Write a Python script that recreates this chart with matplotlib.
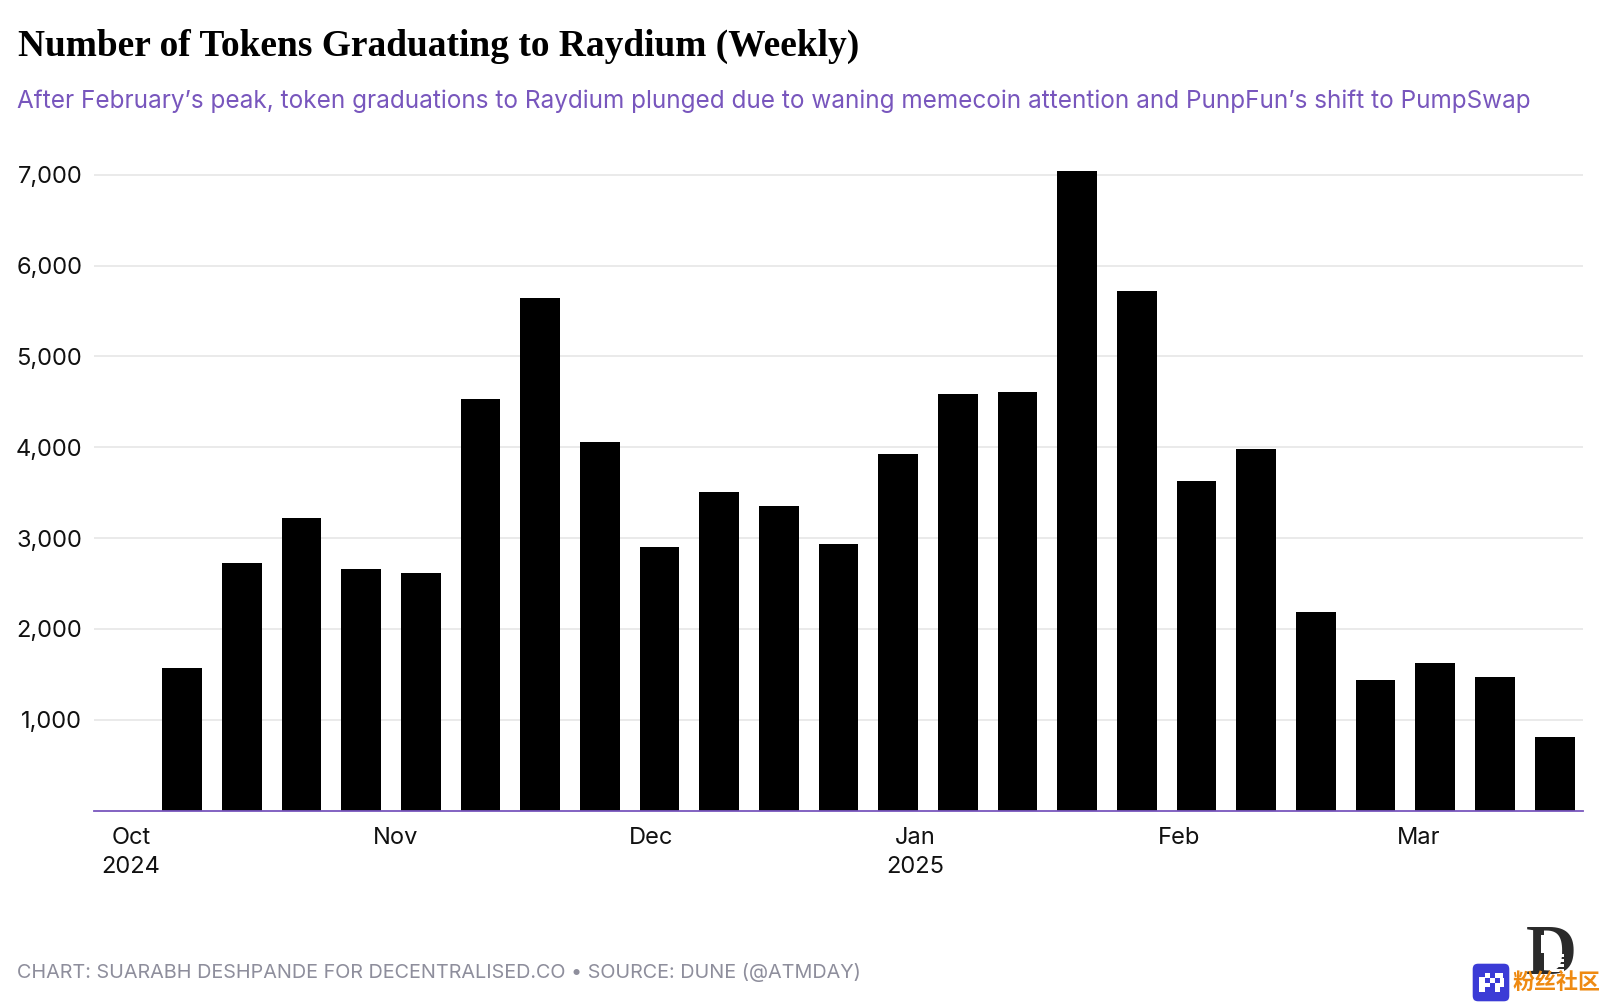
"""Weekly count of tokens graduating to Raydium, Oct 2024 - Mar 2025."""
import matplotlib

matplotlib.use("Agg")

import matplotlib.dates as mdates  # noqa: E402
import matplotlib.pyplot as plt  # noqa: E402
import numpy as np  # noqa: E402
from matplotlib.patches import FancyBboxPatch, Polygon, Rectangle  # noqa: E402

weeks = [
    "2024-10-07", "2024-10-14", "2024-10-21", "2024-10-28", "2024-11-04", "2024-11-11",
    "2024-11-18", "2024-11-25", "2024-12-02", "2024-12-09", "2024-12-16", "2024-12-23",
    "2024-12-30", "2025-01-06", "2025-01-13", "2025-01-20", "2025-01-27", "2025-02-03",
    "2025-02-10", "2025-02-17", "2025-02-24", "2025-03-03", "2025-03-10", "2025-03-17",
]
graduated = [
    1570, 2720, 3225, 2660, 2610, 4530, 5640, 4060, 2900, 3510, 3355, 2935,
    3925, 4585, 4610, 7045, 5720, 3630, 3980, 2180, 1440, 1620, 1475, 805,
]
month_ticks = ["2024-10-01", "2024-11-01", "2024-12-01", "2025-01-01", "2025-02-01", "2025-03-01"]
month_labels = ["Oct\n2024", "Nov", "Dec", "Jan\n2025", "Feb", "Mar"]
y_ticks = [1000, 2000, 3000, 4000, 5000, 6000, 7000]

TITLE = "Number of Tokens Graduating to Raydium (Weekly)"
SUBTITLE = ("After February\u2019s peak, token graduations to Raydium plunged due to "
            "waning memecoin attention and PunpFun\u2019s shift to PumpSwap")
FOOTER = "CHART: SUARABH DESHPANDE FOR DECENTRALISED.CO \u2022 SOURCE: DUNE (@ATMDAY)"

PURPLE = "#7856BD"
GRID = "#E6E6E6"
W, H = 1600, 1002

plt.rcParams["font.family"] = ["Inter", "DejaVu Sans"]

fig = plt.figure(figsize=(W / 100, H / 100), dpi=100, facecolor="white")
# axes box in pixels: left 94, right 1583, baseline 810.5, top 157
ax = fig.add_axes([94 / W, 1 - 810.5 / H, (1583 - 94) / W, (810.5 - 157) / H])

x = mdates.date2num(np.array(weeks, dtype="datetime64[D]"))
ax.bar(x, graduated, width=4.67, color="black", zorder=3)

oct_1 = mdates.date2num(np.datetime64("2024-10-01"))
ax.set_xlim(oct_1 - 4.33, oct_1 + 170.33)
ax.set_ylim(0, 7195)

ax.set_yticks(y_ticks)
ax.set_yticklabels([f"{v:,}" for v in y_ticks])
ax.set_xticks(mdates.date2num(np.array(month_ticks, dtype="datetime64[D]")))
ax.set_xticklabels(month_labels, linespacing=1.42)
ax.tick_params(axis="both", length=0, labelsize=17, labelcolor="#111111")
ax.tick_params(axis="x", pad=11.8)
ax.tick_params(axis="y", pad=8.5)

ax.grid(axis="y", color=GRID, linewidth=1.2, zorder=0)
ax.set_axisbelow(True)
for name in ("top", "right", "left"):
    ax.spines[name].set_visible(False)
ax.spines["bottom"].set_color(PURPLE)
ax.spines["bottom"].set_linewidth(1.3)
ax.spines["bottom"].set_zorder(5)

fig.text(18 / W, 1 - 46 / H, TITLE, family="Liberation Serif", fontweight="bold",
         fontsize=26.9, color="black", va="center", ha="left")
fig.text(17 / W, 1 - 101 / H, SUBTITLE, fontsize=17.5, color=PURPLE, va="center", ha="left")
fig.text(17 / W, 1 - 972 / H, FOOTER, fontsize=14.25, color="#8E8E9C", va="center", ha="left")

# publisher mark, bottom right
fig.text(1551 / W, 1 - 956 / H, "D", family="Liberation Serif", fontweight="bold",
         fontsize=51, color="#2B2B2B", va="center", ha="center", zorder=1)

# hand-placed pixel details, y runs downwards like the picture
overlay = fig.add_axes([0, 0, 1, 1], facecolor="none", zorder=2)
overlay.set_xlim(0, W)
overlay.set_ylim(H, 0)
overlay.axis("off")
overlay.add_patch(Polygon([(1541, 935), (1547, 935), (1558, 953), (1541, 953)],
                          facecolor="white", edgecolor="none"))
for sy in (954, 959, 964, 969):
    overlay.add_patch(Rectangle((1550, sy), 14, 3, facecolor="white", edgecolor="none"))

# watermark badge and text
overlay.add_patch(FancyBboxPatch((1472, 963), 38, 39, boxstyle="round,pad=0,rounding_size=6",
                                 facecolor="#3B3BD6", edgecolor="white", linewidth=1))
for px, py, pw, ph in [(1479, 977, 6, 15), (1485, 973, 5, 5), (1485, 983, 5, 4), (1490, 978, 5, 5),
                       (1495, 973, 8, 5), (1495, 983, 5, 9), (1500, 978, 4, 9)]:
    overlay.add_patch(Rectangle((px, py), pw, ph, facecolor="white", edgecolor="none"))
fig.text(1556 / W, 1 - 982 / H, "\u7c89\u4e1d\u793e\u533a", family="Noto Sans CJK SC",
         fontweight="bold", fontsize=15.8, color="#EE8A12", va="center", ha="center", zorder=3)

fig.savefig("out.png", dpi=100)
